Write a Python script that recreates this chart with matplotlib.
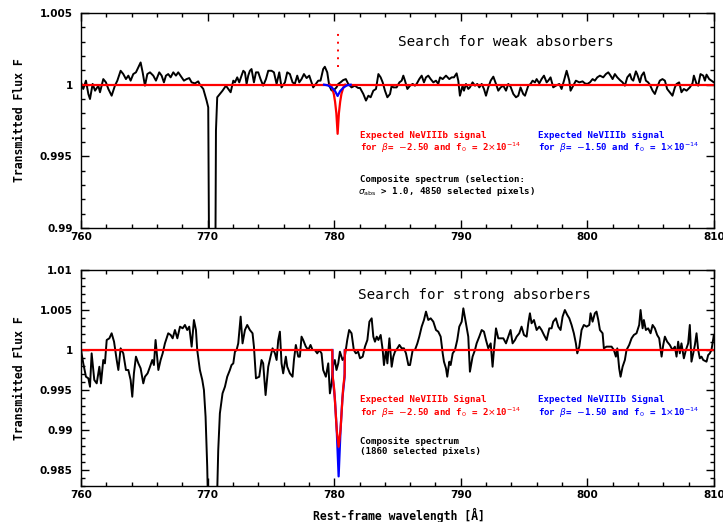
import matplotlib
matplotlib.use("Agg")
import matplotlib.pyplot as plt
from matplotlib.ticker import MultipleLocator, FixedLocator

# composite spectrum, upper panel (weak absorbers)
top_wave = [760.00, 760.18, 760.39, 760.58, 760.71, 760.92, 761.11, 761.37, 761.50, 761.76,
            761.97, 762.16, 762.42, 762.68, 762.87, 763.13, 763.34, 763.55, 763.74, 763.92,
            764.13, 764.34, 764.53, 764.71, 764.87, 765.05, 765.24, 765.45, 765.71, 765.92,
            766.18, 766.37, 766.55, 766.71, 766.89, 767.08, 767.29, 767.50, 767.68, 767.95,
            768.13, 768.34, 768.55, 768.74, 769.00, 769.26, 769.39, 769.66, 769.92, 770.05,
            770.20, 770.55, 770.66, 770.76, 770.97, 771.18, 771.45, 771.63, 771.82, 772.03,
            772.16, 772.34, 772.50, 772.68, 772.82, 772.95, 773.08, 773.21, 773.34, 773.47,
            773.66, 773.82, 774.00, 774.18, 774.39, 774.61, 774.79, 775.05, 775.24, 775.45,
            775.66, 775.84, 776.11, 776.29, 776.50, 776.71, 776.89, 777.08, 777.24, 777.42,
            777.61, 777.82, 778.03, 778.21, 778.34, 778.55, 778.74, 778.92, 779.13, 779.26,
            779.45, 779.61, 779.79, 779.97, 780.18, 780.32, 780.50, 780.71, 780.92, 781.11,
            781.37, 781.63, 781.89, 782.04, 782.30, 782.51, 782.70, 782.88, 783.09, 783.30,
            783.49, 783.67, 783.83, 784.01, 784.20, 784.41, 784.54, 784.67, 784.93, 785.15,
            785.33, 785.46, 785.59, 785.78, 785.99, 786.20, 786.38, 786.51, 786.72, 786.91,
            787.09, 787.25, 787.43, 787.62, 787.83, 788.04, 788.22, 788.36, 788.57, 788.83,
            789.09, 789.28, 789.46, 789.67, 789.80, 789.93, 790.14, 790.25, 790.41, 790.59,
            790.72, 790.93, 791.12, 791.30, 791.46, 791.65, 791.83, 791.99, 792.17, 792.36,
            792.57, 792.78, 792.96, 793.15, 793.36, 793.57, 793.75, 793.93, 794.15, 794.36,
            794.54, 794.72, 794.93, 795.07, 795.20, 795.33, 795.51, 795.67, 795.86, 795.99,
            796.20, 796.38, 796.57, 796.78, 796.91, 797.09, 797.30, 797.51, 797.78, 797.96,
            798.15, 798.36, 798.57, 798.67, 798.88, 799.09, 799.36, 799.62, 799.80, 799.99,
            800.20, 800.41, 800.59, 800.78, 800.99, 801.25, 801.46, 801.65, 801.83, 801.99,
            802.17, 802.36, 802.57, 802.78, 802.96, 803.15, 803.36, 803.49, 803.62, 803.83,
            803.93, 804.15, 804.28, 804.46, 804.62, 804.80, 804.93, 805.15, 805.33, 805.51,
            805.72, 805.93, 806.12, 806.30, 806.51, 806.72, 806.91, 807.04, 807.25, 807.43,
            807.62, 807.83, 808.09, 808.30, 808.41, 808.62, 808.75, 808.93, 809.15, 809.28,
            809.41, 809.62, 809.80, 809.99]
top_flux = [1.00016, 0.99970, 1.00028, 0.99935, 0.99900, 1.00005, 0.99958, 0.99993, 0.99947, 1.00039,
            1.00016, 0.99970, 0.99923, 0.99993, 1.00028, 1.00097, 1.00074, 1.00039, 1.00063, 1.00028,
            1.00074, 1.00086, 1.00121, 1.00155, 1.00086, 0.99993, 1.00074, 1.00086, 1.00063, 1.00028,
            1.00086, 1.00063, 1.00016, 1.00063, 1.00074, 1.00051, 1.00086, 1.00063, 1.00086, 1.00051,
            1.00028, 1.00039, 1.00046, 1.00016, 1.00009, 1.00023, 1.00000, 0.99970, 0.99889, 0.99842,
            0.97500, 0.97500, 0.99680, 0.99912, 0.99935, 0.99958, 0.99993, 0.99970, 0.99947, 1.00028,
            1.00016, 1.00051, 1.00016, 1.00063, 1.00097, 1.00086, 1.00005, 1.00063, 1.00097, 1.00109,
            1.00016, 1.00086, 1.00086, 1.00039, 0.99993, 1.00039, 1.00097, 1.00097, 1.00086, 1.00005,
            1.00086, 0.99981, 1.00016, 1.00086, 1.00074, 1.00016, 1.00005, 1.00063, 1.00016, 1.00039,
            1.00074, 1.00046, 1.00063, 1.00016, 0.99981, 1.00005, 1.00028, 1.00028, 1.00109, 1.00125,
            1.00086, 0.99993, 0.99960, 0.99962, 0.99981, 1.00005, 1.00016, 1.00032, 1.00039, 1.00005,
            0.99981, 0.99993, 0.99977, 0.99977, 0.99935, 0.99889, 0.99923, 0.99912, 0.99958, 0.99970,
            1.00074, 1.00051, 1.00016, 0.99958, 0.99912, 0.99935, 0.99993, 0.99981, 0.99981, 1.00016,
            1.00028, 1.00063, 1.00028, 0.99970, 0.99993, 1.00005, 0.99993, 1.00005, 1.00039, 1.00063,
            1.00016, 1.00051, 1.00063, 1.00039, 1.00016, 1.00028, 1.00005, 1.00051, 1.00039, 1.00063,
            1.00039, 1.00051, 1.00051, 1.00079, 1.00028, 0.99923, 0.99993, 0.99958, 1.00005, 0.99970,
            0.99981, 1.00016, 0.99993, 1.00005, 0.99981, 1.00005, 0.99970, 0.99923, 0.99981, 1.00028,
            1.00056, 1.00005, 0.99958, 0.99981, 0.99993, 0.99958, 1.00005, 0.99986, 0.99935, 0.99912,
            0.99923, 0.99981, 0.99935, 0.99923, 0.99958, 0.99993, 1.00005, 1.00028, 1.00016, 1.00039,
            1.00009, 1.00039, 1.00063, 1.00016, 1.00028, 1.00051, 0.99981, 0.99993, 1.00005, 0.99970,
            1.00028, 1.00097, 1.00028, 0.99958, 0.99993, 1.00028, 1.00016, 1.00023, 1.00009, 1.00005,
            1.00016, 1.00039, 1.00028, 1.00051, 1.00063, 1.00051, 1.00074, 1.00086, 1.00063, 1.00039,
            1.00074, 1.00051, 1.00032, 1.00016, 0.99993, 1.00051, 1.00074, 1.00039, 1.00028, 1.00093,
            1.00074, 1.00016, 1.00063, 1.00086, 1.00028, 1.00016, 1.00000, 0.99958, 0.99935, 0.99981,
            1.00028, 1.00039, 1.00028, 0.99970, 0.99947, 0.99923, 0.99981, 1.00005, 1.00016, 0.99947,
            0.99970, 0.99958, 0.99981, 1.00009, 1.00063, 1.00005, 0.99993, 1.00074, 1.00063, 1.00028,
            1.00070, 1.00039, 1.00028, 1.00016]

# composite spectrum, lower panel (strong absorbers)
bot_wave = [760.00, 760.18, 760.39, 760.58, 760.71, 760.84, 761.05, 761.24, 761.45, 761.58,
            761.76, 761.89, 762.03, 762.24, 762.42, 762.61, 762.82, 762.95, 763.13, 763.34,
            763.55, 763.74, 763.92, 764.05, 764.18, 764.34, 764.53, 764.71, 764.92, 765.05,
            765.26, 765.45, 765.63, 765.76, 765.89, 766.11, 766.29, 766.45, 766.63, 766.89,
            767.08, 767.24, 767.42, 767.61, 767.82, 768.03, 768.21, 768.39, 768.55, 768.74,
            768.92, 769.08, 769.18, 769.39, 769.58, 769.71, 769.84, 769.97, 770.15, 770.60,
            770.84, 770.97, 771.18, 771.37, 771.55, 771.76, 771.89, 772.03, 772.16, 772.29,
            772.42, 772.61, 772.76, 772.95, 773.13, 773.34, 773.55, 773.66, 773.82, 774.08,
            774.26, 774.39, 774.58, 774.79, 774.97, 775.13, 775.32, 775.45, 775.58, 775.71,
            775.84, 775.97, 776.18, 776.29, 776.50, 776.71, 776.82, 776.97, 777.16, 777.29,
            777.42, 777.55, 777.76, 777.95, 778.13, 778.29, 778.47, 778.66, 778.82, 779.00,
            779.13, 779.34, 779.53, 779.66, 779.79, 779.92, 780.05, 780.18, 780.32, 780.45,
            780.66, 780.84, 781.03, 781.18, 781.37, 781.55, 781.71, 781.89, 782.04, 782.25,
            782.43, 782.62, 782.78, 782.96, 783.09, 783.22, 783.36, 783.49, 783.67, 783.83,
            783.93, 784.09, 784.20, 784.36, 784.54, 784.67, 784.80, 784.99, 785.15, 785.33,
            785.51, 785.67, 785.86, 785.99, 786.20, 786.38, 786.57, 786.72, 786.91, 787.09,
            787.25, 787.43, 787.62, 787.83, 788.04, 788.22, 788.41, 788.57, 788.67, 788.83,
            788.93, 789.09, 789.20, 789.36, 789.54, 789.72, 789.88, 790.07, 790.20, 790.41,
            790.59, 790.72, 790.93, 791.12, 791.25, 791.46, 791.65, 791.83, 791.99, 792.17,
            792.36, 792.51, 792.62, 792.78, 792.96, 793.15, 793.36, 793.57, 793.75, 793.93,
            794.09, 794.28, 794.41, 794.62, 794.80, 794.99, 795.20, 795.33, 795.46, 795.59,
            795.78, 795.99, 796.20, 796.38, 796.57, 796.78, 796.99, 797.17, 797.30, 797.51,
            797.70, 797.88, 798.04, 798.22, 798.41, 798.57, 798.75, 798.93, 799.09, 799.20,
            799.36, 799.54, 799.72, 799.94, 800.15, 800.25, 800.41, 800.59, 800.72, 800.86,
            800.99, 801.20, 801.30, 801.51, 801.72, 801.91, 802.09, 802.25, 802.36, 802.51,
            802.62, 802.78, 802.96, 803.09, 803.30, 803.49, 803.67, 803.88, 804.09, 804.20,
            804.36, 804.46, 804.62, 804.80, 804.99, 805.15, 805.33, 805.51, 805.67, 805.86,
            805.99, 806.12, 806.30, 806.51, 806.72, 806.91, 807.04, 807.17, 807.30, 807.43,
            807.62, 807.78, 807.96, 808.09, 808.22, 808.36, 808.49, 808.62, 808.75, 808.88,
            809.01, 809.15, 809.41, 809.54, 809.67, 809.80, 809.99]
bot_flux = [1.00000, 0.99833, 0.99666, 0.99646, 0.99541, 0.99958, 0.99625, 0.99583, 0.99791, 0.99583,
            0.99875, 0.99833, 1.00125, 1.00146, 1.00209, 1.00104, 0.99875, 0.99750, 1.00021, 0.99958,
            0.99750, 0.99750, 0.99625, 0.99416, 0.99708, 0.99917, 0.99833, 0.99771, 0.99583, 0.99666,
            0.99708, 0.99791, 0.99875, 0.99812, 1.00125, 0.99750, 0.99875, 0.99958, 1.00083, 1.00209,
            1.00188, 1.00146, 1.00250, 1.00146, 1.00292, 1.00271, 1.00313, 1.00250, 1.00292, 1.00042,
            1.00375, 1.00250, 1.00000, 0.99750, 0.99625, 0.99500, 0.99166, 0.98540, 0.97200, 0.97200,
            0.98749, 0.99208, 0.99458, 0.99541, 0.99666, 0.99750, 0.99812, 0.99833, 0.99979, 1.00000,
            1.00083, 1.00417, 1.00083, 1.00250, 1.00313, 1.00250, 1.00209, 1.00042, 0.99646, 0.99666,
            0.99875, 0.99833, 0.99437, 0.99791, 0.99917, 1.00021, 0.99958, 0.99875, 1.00125, 1.00229,
            0.99833, 0.99708, 0.99917, 0.99791, 0.99708, 0.99666, 0.99875, 1.00063, 0.99917, 0.99917,
            1.00167, 1.00125, 1.00042, 1.00000, 1.00063, 1.00000, 1.00000, 0.99958, 1.00000, 0.99958,
            0.99750, 0.99666, 0.99833, 0.99458, 0.99583, 0.99812, 0.99875, 0.99750, 0.99833, 0.99979,
            0.99875, 0.99917, 1.00125, 1.00250, 1.00209, 1.00000, 0.99958, 0.99979, 0.99896, 0.99917,
            1.00042, 1.00125, 1.00354, 1.00396, 1.00167, 1.00104, 1.00167, 1.00125, 1.00188, 1.00000,
            0.99812, 1.00000, 0.99833, 1.00146, 0.99791, 0.99917, 0.99979, 1.00021, 1.00063, 1.00021,
            1.00021, 0.99958, 0.99812, 0.99812, 1.00000, 1.00000, 1.00083, 1.00167, 1.00292, 1.00375,
            1.00480, 1.00375, 1.00396, 1.00354, 1.00250, 1.00229, 1.00167, 0.99958, 0.99854, 0.99771,
            0.99666, 0.99854, 0.99812, 0.99958, 1.00000, 1.00125, 1.00292, 1.00354, 1.00521, 1.00333,
            1.00167, 0.99729, 0.99917, 1.00000, 1.00083, 1.00167, 1.00250, 1.00229, 1.00125, 1.00021,
            1.00083, 0.99791, 1.00000, 1.00271, 1.00146, 1.00146, 1.00146, 1.00083, 1.00167, 1.00250,
            1.00083, 1.00125, 1.00167, 1.00209, 1.00292, 1.00188, 1.00167, 1.00334, 1.00459, 1.00334,
            1.00375, 1.00250, 1.00292, 1.00250, 1.00188, 1.00125, 1.00271, 1.00271, 1.00354, 1.00396,
            1.00292, 1.00250, 1.00417, 1.00500, 1.00438, 1.00396, 1.00313, 1.00209, 1.00083, 0.99958,
            1.00042, 1.00250, 1.00313, 1.00292, 1.00313, 1.00459, 1.00354, 1.00459, 1.00480, 1.00375,
            1.00250, 1.00209, 1.00021, 1.00042, 1.00042, 1.00042, 1.00000, 0.99917, 1.00021, 0.99771,
            0.99666, 0.99791, 0.99875, 1.00000, 1.00063, 1.00146, 1.00188, 1.00209, 1.00313, 1.00500,
            1.00271, 1.00375, 1.00250, 1.00271, 1.00209, 1.00313, 1.00271, 1.00188, 1.00146, 0.99917,
            1.00063, 1.00167, 1.00104, 1.00063, 1.00000, 1.00042, 0.99917, 1.00104, 0.99958, 1.00083,
            0.99896, 1.00000, 1.00083, 1.00313, 0.99854, 0.99958, 1.00063, 1.00209, 1.00000, 0.99896,
            0.99917, 0.99875, 0.99854, 0.99937, 0.99958, 1.00000, 1.00188]

# expected NeVIIIb signals
cont_wave = [760.0, 810.0]
cont_flux = [1.0, 1.0]

red_top_wave = [779.67, 779.82, 779.97, 780.07, 780.17, 780.27, 780.37, 780.47, 780.57, 780.72, 780.87]
red_top_flux = [1.00000, 0.99980, 0.99935, 0.99880, 0.99800, 0.99657, 0.99800, 0.99880, 0.99935, 0.99980, 1.00000]
blue_top_wave = [779.20, 779.50, 779.82, 780.07, 780.27, 780.47, 780.72, 781.00, 781.30]
blue_top_flux = [1.00000, 0.99995, 0.99979, 0.99955, 0.99921, 0.99955, 0.99979, 0.99995, 1.00000]

red_bot_wave = [760.0, 779.85, 779.86, 780.00, 780.10, 780.20, 780.35, 780.50, 780.60, 780.70, 780.83, 780.84, 810.0]
red_bot_flux = [1.0, 1.0, 0.9970, 0.9951, 0.9926, 0.9900, 0.9879, 0.9900, 0.9926, 0.9951, 0.9970, 1.0, 1.0]
blue_bot_wave = [779.86, 779.88, 780.05, 780.20, 780.35, 780.50, 780.65, 780.82, 780.84]
blue_bot_flux = [1.0, 0.9966, 0.9940, 0.9900, 0.9842, 0.9900, 0.9940, 0.9966, 1.0]

marker_wave = 780.27
marker_flux = [1.00121, 1.00387]

top_yticks = [0.99, 0.995, 1.0, 1.005]
top_ylabels = ["0.99", "0.995", "1", "1.005"]
bot_yticks = [0.985, 0.99, 0.995, 1.0, 1.005, 1.01]
bot_ylabels = ["0.985", "0.99", "0.995", "1", "1.005", "1.01"]
xticks = [760, 770, 780, 790, 800, 810]

W, H = 723, 522
mono = "DejaVu Sans Mono"
RED = "#ff0000"
BLUE = "#0000ff"


def style_axes(ax, yticks, ylabels, ylim):
    ax.set_xlim(760, 810)
    ax.set_ylim(*ylim)
    ax.xaxis.set_major_locator(FixedLocator(xticks))
    ax.xaxis.set_minor_locator(MultipleLocator(2))
    ax.yaxis.set_major_locator(FixedLocator(yticks))
    ax.yaxis.set_minor_locator(MultipleLocator(0.001))
    ax.set_xticklabels([str(t) for t in xticks])
    ax.set_yticklabels(ylabels)
    ax.tick_params(which="both", direction="in", top=True, right=True, width=1, color="black")
    ax.tick_params(which="major", length=5.5)
    ax.tick_params(which="minor", length=2.8)
    ax.tick_params(axis="x", pad=3)
    ax.tick_params(axis="y", pad=6)
    for lab in ax.get_xticklabels() + ax.get_yticklabels():
        lab.set_fontweight("bold")
        lab.set_fontsize(7.5)
    for sp in ax.spines.values():
        sp.set_linewidth(1.0)


def ftext(x, y, s, **kw):
    fig.text(x / W, 1 - y / H, s, va="center", ha="left", **kw)


fig = plt.figure(figsize=(7.23, 5.22), dpi=100)
ax1 = fig.add_axes([81 / W, 1 - 228 / H, 633 / W, 215 / H])
ax2 = fig.add_axes([81 / W, 1 - 486 / H, 633 / W, 216 / H])

# upper panel
ax1.plot(top_wave, top_flux, color="black", lw=1.4)
ax1.plot(cont_wave, cont_flux, color=RED, lw=1.6)
ax1.plot(red_top_wave, red_top_flux, color=RED, lw=1.6)
ax1.plot(blue_top_wave, blue_top_flux, color=BLUE, lw=1.6)
ax1.plot([marker_wave, marker_wave], marker_flux, color=RED, lw=1.4, ls=(0, (1, 3)))
style_axes(ax1, top_yticks, top_ylabels, (0.99, 1.005))

# lower panel
ax2.plot(bot_wave, bot_flux, color="black", lw=1.4)
ax2.plot(blue_bot_wave, blue_bot_flux, color=BLUE, lw=1.6)
ax2.plot(red_bot_wave, red_bot_flux, color=RED, lw=1.6)
style_axes(ax2, bot_yticks, bot_ylabels, (0.983, 1.01))

# annotations, upper
ftext(398, 42, "Search for weak absorbers", family=mono, fontsize=10.3)
ftext(360, 136, "Expected NeVIIIb signal", family=mono, fontsize=6.6, weight="bold", color=RED)
ftext(360, 148, r"for $\beta$= $-$2.50 and f$_0$ = 2$\times$10$^{-14}$", family=mono, fontsize=6.6,
      weight="bold", color=RED)
ftext(538, 136, "Expected NeVIIIb signal", family=mono, fontsize=6.6, weight="bold", color=BLUE)
ftext(538, 148, r"for $\beta$= $-$1.50 and f$_0$ = 1$\times$10$^{-14}$", family=mono, fontsize=6.6,
      weight="bold", color=BLUE)
ftext(360, 179, "Composite spectrum (selection:", family=mono, fontsize=6.6, weight="bold")
ftext(358, 191, r"$\sigma_{\rm abs}$ > 1.0, 4850 selected pixels)", family=mono, fontsize=6.6, weight="bold")

# annotations, lower
ftext(358, 295, "Search for strong absorbers", family=mono, fontsize=10.3)
ftext(360, 400, "Expected NeVIIIb Signal", family=mono, fontsize=6.6, weight="bold", color=RED)
ftext(360, 413, r"for $\beta$= $-$2.50 and f$_0$ = 2$\times$10$^{-14}$", family=mono, fontsize=6.6,
      weight="bold", color=RED)
ftext(538, 400, "Expected NeVIIIb Signal", family=mono, fontsize=6.6, weight="bold", color=BLUE)
ftext(538, 413, r"for $\beta$= $-$1.50 and f$_0$ = 1$\times$10$^{-14}$", family=mono, fontsize=6.6,
      weight="bold", color=BLUE)
ftext(360, 441, "Composite spectrum", family=mono, fontsize=6.6, weight="bold")
ftext(360, 452, "(1860 selected pixels)", family=mono, fontsize=6.6, weight="bold")

# axis labels
fig.text(20 / W, 1 - 120 / H, "Transmitted Flux F", rotation=90, va="center", ha="center",
         family=mono, fontsize=8.3, weight="bold")
fig.text(20 / W, 1 - 378 / H, "Transmitted Flux F", rotation=90, va="center", ha="center",
         family=mono, fontsize=8.3, weight="bold")
fig.text(399 / W, 1 - 515 / H, "Rest-frame wavelength [Å]", va="center", ha="center",
         family=mono, fontsize=8.3, weight="bold")

fig.savefig("out.png", dpi=100)
